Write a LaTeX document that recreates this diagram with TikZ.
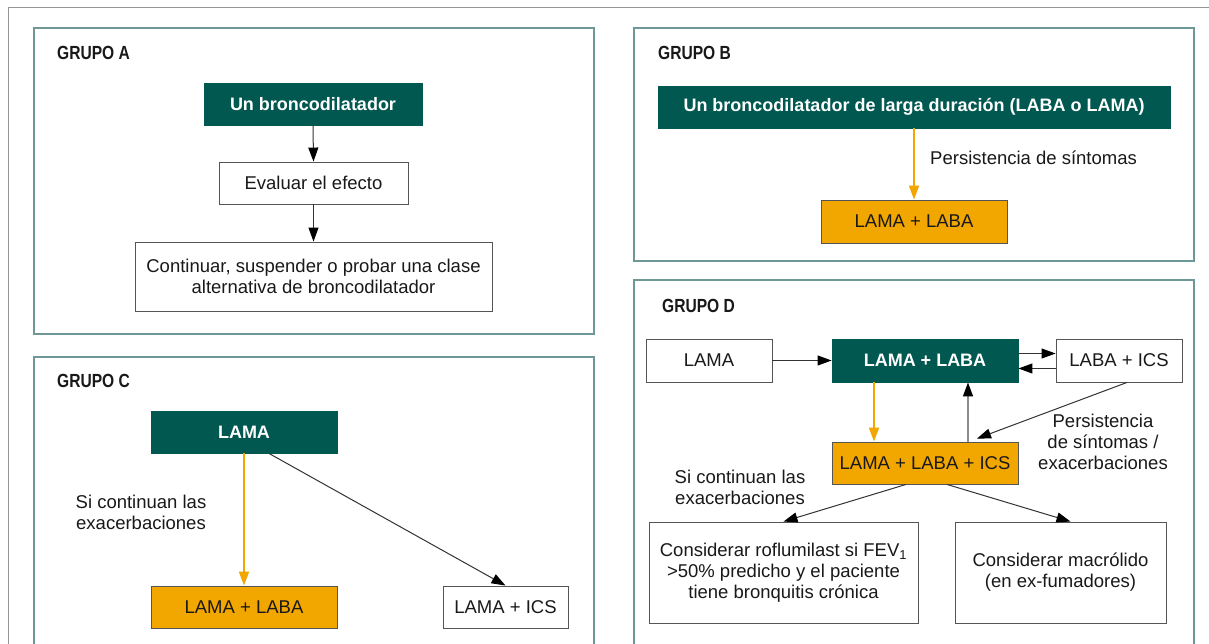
\documentclass[tikz,border=0pt]{standalone}
\usepackage{fontspec}
\setmainfont{Liberation Sans}
\newfontfamily\headfont{Liberation Sans}[FakeStretch=0.82]
\usetikzlibrary{arrows.meta}
\definecolor{tealbox}{RGB}{0,88,80}
\definecolor{orangebox}{RGB}{242,166,0}
\definecolor{framec}{RGB}{110,152,152}
\definecolor{boxline}{RGB}{85,85,85}
\definecolor{txt}{RGB}{25,25,25}
\definecolor{rule}{RGB}{150,150,150}
\tikzset{
  box/.style={draw=boxline, line width=0.9pt, fill=white, inner sep=0pt, align=center,
    text=txt, font=\fontsize{18.5}{21}\selectfont},
  tealb/.style={box, fill=tealbox, draw=tealbox, text=white, font=\fontsize{18}{21}\selectfont\bfseries},
  orangeb/.style={box, fill=orangebox},
  frame/.style={draw=framec, line width=1.2pt, fill=white},
  head/.style={anchor=base west, inner sep=0pt, text=txt, font=\headfont\bfseries\fontsize{19}{22}\selectfont},
  lbl/.style={align=center, inner sep=0pt, text=txt, font=\fontsize{18.5}{21}\selectfont},
  arr/.style={-{Triangle[length=14pt,width=10pt,color=black]}, line width=1pt, draw=black!80},
  oarr/.style={-{Triangle[length=14pt,width=10pt]}, line width=1.8pt, draw=orangebox},
  garr/.style={-{Triangle[length=14pt,width=10pt,color=black]}, line width=1.4pt, draw=black!45}
}
\begin{document}
\begin{tikzpicture}[x=1pt,y=-1pt]
\useasboundingbox[fill=white] (0,0) rectangle (1209,644);
\clip (0,0) rectangle (1209,644);

% page rules
\draw[rule, line width=1pt] (8,644) -- (8,8) -- (1209,8);

% group frames
\draw[frame] (34,28) rectangle (594,334);
\draw[frame] (634,28) rectangle (1194,261);
\draw[frame] (34,357) rectangle (594,700);
\draw[frame] (634,280) rectangle (1194,700);

% ---------- Grupo A ----------
\node[head] (hA) at (57,60) {GRUPO A};
\node[tealb, minimum width=218pt, minimum height=42pt] (a1) at (313,104) {Un broncodilatador};
\node[box, minimum width=189pt, minimum height=42pt] (a2) at (313.5,183) {Evaluar el efecto};
\node[box, minimum width=357pt, minimum height=69pt] (a3) at (313.5,276.5)
  {Continuar, suspender o probar una clase\\alternativa de broncodilatador};
\draw[arr] (a1.south) -- (a2.north);
\draw[arr] (a2.south) -- (a3.north);

% ---------- Grupo B ----------
\node[head] (hB) at (658,60) {GRUPO B};
\node[tealb, minimum width=512pt, minimum height=42pt] (b1) at (914,107)
  {Un broncodilatador de larga duración (LABA o LAMA)};
\node[orangeb, minimum width=186pt, minimum height=43pt] (b2) at (914,221.5) {LAMA + LABA};
\draw[oarr] (b1.south) -- (b2.north);
\node[lbl, anchor=west] (bl) at (930,158) {Persistencia de síntomas};

% ---------- Grupo C ----------
\node[head] (hC) at (57,387) {GRUPO C};
\node[tealb, minimum width=186pt, minimum height=42pt] (c1) at (244,432) {LAMA};
\node[orangeb, minimum width=186pt, minimum height=42pt] (c2) at (244,607) {LAMA + LABA};
\node[box, minimum width=125pt, minimum height=42pt] (c3) at (505.5,607) {LAMA + ICS};
\draw[oarr] (c1.south) -- (c2.north);
\draw[arr] ([xshift=25pt]c1.south) -- (c3.north);
\node[lbl] (cl) at (141,512) {Si continuan las\\exacerbaciones};

% ---------- Grupo D ----------
\node[head] (hD) at (662,312) {GRUPO D};
\node[box, minimum width=126pt, minimum height=43pt] (d1) at (709,360.5) {LAMA};
\node[tealb, minimum width=186pt, minimum height=43pt] (d2) at (925,360.5) {LAMA + LABA};
\node[box, minimum width=126pt, minimum height=43pt] (d3) at (1119,360.5) {LABA + ICS};
\node[orangeb, minimum width=186pt, minimum height=42pt] (d4) at (925,463) {LAMA + LABA + ICS};
\node[box, minimum width=269pt, minimum height=101pt] (d5) at (783.5,572.5)
  {Considerar roflumilast si FEV\textsubscript{1}\\>50\% predicho y el paciente\\tiene bronquitis crónica};
\node[box, minimum width=211pt, minimum height=101pt] (d6) at (1060.5,572.5)
  {Considerar macrólido\\(en ex-fumadores)};

\draw[arr] (d1.east) -- (d2.west);
\draw[arr] ([yshift=7pt]d2.east) -- ([yshift=7pt]d3.west);
\draw[arr] ([yshift=-8pt]d3.west) -- ([yshift=-8pt]d2.east);
\draw[oarr] ([xshift=-51pt]d2.south) -- ([xshift=-51pt]d4.north);
\draw[garr] ([xshift=43pt]d4.north) -- ([xshift=43pt]d2.south);
\draw[arr] ([xshift=8pt]d3.south) -- ([xshift=52pt,yshift=3pt]d4.north);
\draw[arr] ([xshift=-19pt]d4.south) -- (d5.north);
\draw[arr] ([xshift=22pt]d4.south) -- ([xshift=10pt]d6.north);

\node[lbl] (dl1) at (1103,442) {Persistencia\\de síntomas /\\exacerbaciones};
\node[lbl] (dl2) at (740,487) {Si continuan las\\exacerbaciones};
\end{tikzpicture}
\end{document}
